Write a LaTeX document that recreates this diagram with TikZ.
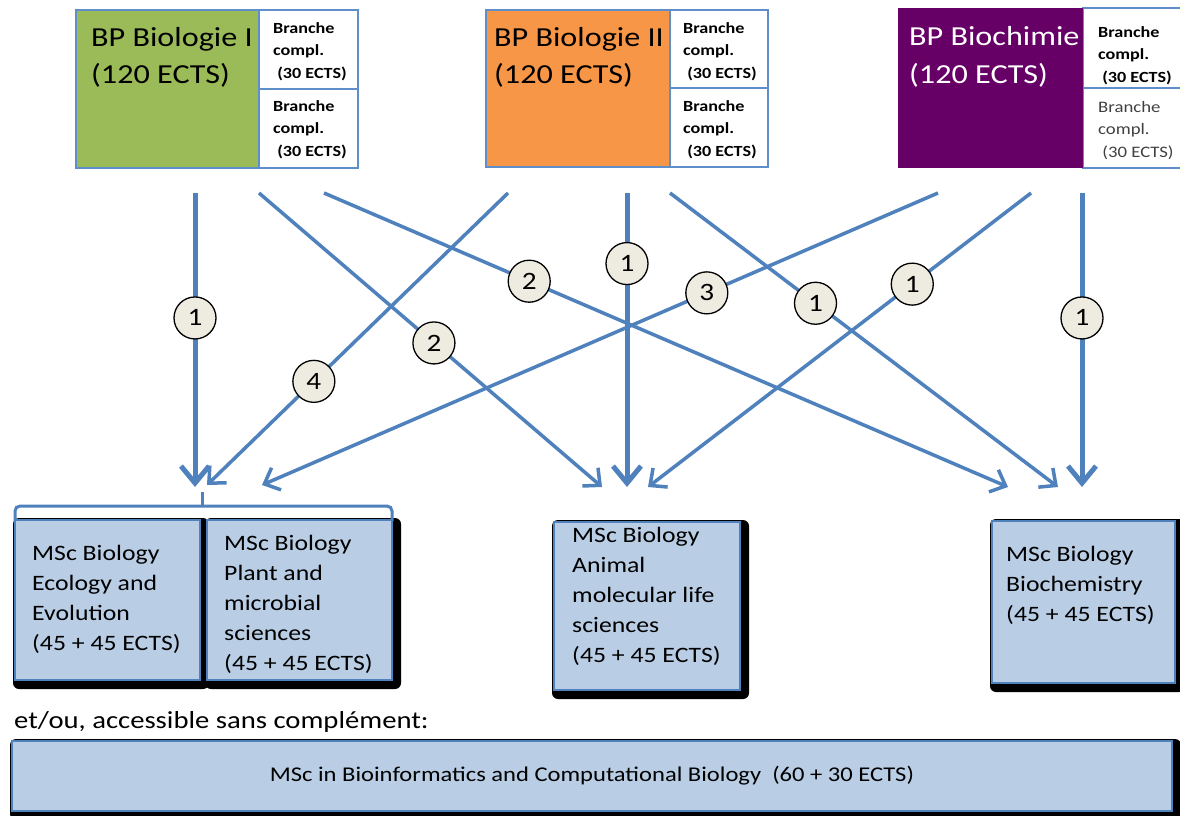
\documentclass[tikz,border=0pt]{standalone}
\usepackage{fontspec}
\setmainfont[FakeStretch=1.17]{Carlito}
\usetikzlibrary{arrows.meta}
\definecolor{arr}{HTML}{4F81BD}
\definecolor{bord}{HTML}{5E8FCB}
\definecolor{grn}{HTML}{9BBB59}
\definecolor{orng}{HTML}{F79646}
\definecolor{purp}{HTML}{660066}
\definecolor{mscfill}{HTML}{B9CDE5}
\definecolor{circfill}{HTML}{EEECE1}
\definecolor{greytext}{HTML}{404040}
\tikzset{
  box/.style={rectangle, inner sep=0pt, outer sep=0pt, anchor=north west},
  bptitle/.style={anchor=base west, align=left, inner sep=0pt, font=\fontsize{27.5}{37}\selectfont},
  brtext/.style={anchor=base west, align=left, inner sep=0pt, font=\fontsize{15.5}{22.5}\selectfont\bfseries},
  brtextreg/.style={anchor=base west, align=left, inner sep=0pt, text=greytext, font=\fontsize{16}{22.5}\selectfont},
  msctext/.style={anchor=base west, align=left, inner sep=0pt, font=\fontsize{22}{30}\selectfont},
  mscbox/.style={box, draw=arr, line width=2pt, fill=mscfill},
  shadowfill/.style={fill=black, rounded corners=6pt},
  num/.style={circle, draw=black, line width=1.3pt, fill=circfill, minimum size=42pt, inner sep=0pt, font=\fontsize{25}{25}\selectfont},
  conn/.style={draw=arr, line width=3.5pt, -{Straight Barb[length=13pt,width=24pt]}},
  vconn/.style={draw=arr, line width=5pt, -{Straight Barb[length=17pt,width=28pt]}},
}
\begin{document}
\begin{tikzpicture}[x=1pt,y=-1pt]
\useasboundingbox[fill=white] (0,0) rectangle (1180,816);

% ---- top programmes ----
\node[box, fill=grn, draw=bord, line width=2pt, minimum width=183pt, minimum height=158pt] (bp1) at (76,10) {};
\node[box, fill=white, draw=bord, line width=2pt, minimum width=99pt, minimum height=79pt] (bp1a) at (259,10) {};
\node[box, fill=white, draw=bord, line width=2pt, minimum width=99pt, minimum height=79pt] (bp1b) at (259,89) {};
\node[bptitle] (t1) at (91,84) {BP Biologie I\\(120 ECTS)};
\node[brtext] (t1a) at (273,78) {Branche\\compl.\\\ (30 ECTS)};
\node[brtext] (t1b) at (273,156) {Branche\\compl.\\\ (30 ECTS)};

\node[box, fill=orng, draw=bord, line width=2pt, minimum width=184pt, minimum height=157pt] (bp2) at (486,10) {};
\node[box, fill=white, draw=bord, line width=2pt, minimum width=98pt, minimum height=78pt] (bp2a) at (670,10) {};
\node[box, fill=white, draw=bord, line width=2pt, minimum width=98pt, minimum height=79pt] (bp2b) at (670,88) {};
\node[bptitle] (t2) at (494,84) {BP Biologie II\\(120 ECTS)};
\node[brtext] (t2a) at (683,78) {Branche\\compl.\\\ (30 ECTS)};
\node[brtext] (t2b) at (683,156) {Branche\\compl.\\\ (30 ECTS)};

\node[box, fill=white, draw=bord, line width=2pt, minimum width=110pt, minimum height=80pt] (bp3a) at (1083,8) {};
\node[box, fill=white, draw=bord, line width=2pt, minimum width=110pt, minimum height=80pt] (bp3b) at (1083,88) {};
\node[box, fill=purp, minimum width=185pt, minimum height=160pt] (bp3) at (898,8) {};
\node[bptitle, text=white] (t3) at (909,83) {BP Biochimie\\(120 ECTS)};
\node[brtext] (t3a) at (1098,82) {Branche\\compl.\\\ (30 ECTS)};
\node[brtextreg] (t3b) at (1098,157) {Branche\\compl.\\\ (30 ECTS)};

% ---- master programmes ----
\fill[shadowfill] (13,518) rectangle (209,689);
\fill[shadowfill] (205,518) rectangle (401,689);
\fill[shadowfill] (552,520) rectangle (749,699);
\fill[shadowfill] (990,519) rectangle (1185,692);
\fill[shadowfill] (10,739) rectangle (1181,820);

\node[mscbox, minimum width=185pt, minimum height=160pt] (mA) at (15,520) {};
\node[mscbox, minimum width=185pt, minimum height=160pt] (mB) at (207,520) {};
\node[mscbox, minimum width=186pt, minimum height=168pt] (mC) at (554,522) {};
\node[mscbox, minimum width=183pt, minimum height=162pt] (mD) at (992,521) {};
\node[mscbox, minimum width=1160pt, minimum height=70pt] (mE) at (12,741) {};

\node[msctext] (tA) at (32,650) {MSc Biology\\Ecology and\\Evolution\\(45 + 45 ECTS)};
\node[msctext] (tB) at (224,670) {MSc Biology\\Plant and\\microbial\\sciences\\(45 + 45 ECTS)};
\node[msctext] (tC) at (572,662) {MSc Biology\\Animal\\molecular life\\sciences\\(45 + 45 ECTS)};
\node[msctext] (tD) at (1006,621) {MSc Biology\\Biochemistry\\(45 + 45 ECTS)};
\node[font=\fontsize{21}{21}\selectfont, inner sep=0pt] (tE) at (mE.center) {MSc in Bioinformatics and Computational Biology\ \ (60 + 30 ECTS)};
\node[anchor=base west, inner sep=0pt, font=\fontsize{24.5}{25}\selectfont] (etou) at (14,728) {et/ou, accessible sans complément:};

% ---- bracket over first two MSc ----
\coordinate (brk) at (202,492);
\draw[draw=arr, line width=3pt, rounded corners=5pt] (15,521) -- (15,506) -- (392,506) -- (392,521);
\draw[draw=arr, line width=3pt] (202,506) -- (brk);

% ---- connectors ----
\coordinate (s1) at (195,193); \coordinate (e1) at (195,487);
\coordinate (s2) at (259,193); \coordinate (e2) at (602,487);
\coordinate (s3) at (324,193); \coordinate (e3) at (1008,487);
\coordinate (s4) at (508,193); \coordinate (e4) at (207,485);
\coordinate (s5) at (938,193); \coordinate (e5) at (262,485);
\coordinate (s6) at (627,193); \coordinate (e6) at (627,487);
\coordinate (s7) at (670,193); \coordinate (e7) at (1058,487);
\coordinate (s8) at (1031,193); \coordinate (e8) at (648,487);
\coordinate (s9) at (1082,193); \coordinate (e9) at (1082,487);

\draw[vconn] (s1) -- (e1);
\draw[conn] (s2) -- (e2);
\draw[conn] (s3) -- (e3);
\draw[conn] (s4) -- (e4);
\draw[conn] (s5) -- (e5);
\draw[vconn] (s6) -- (e6);
\draw[conn] (s7) -- (e7);
\draw[conn] (s8) -- (e8);
\draw[vconn] (s9) -- (e9);

\path (s1) -- (e1) node[num, pos=0.425] (n1) {1};
\path (s2) -- (e2) node[num, pos=0.51] (n2) {2};
\path (s3) -- (e3) node[num, pos=0.30] (n3) {2};
\path (s4) -- (e4) node[num, pos=0.645] (n4) {4};
\path (s5) -- (e5) node[num, pos=0.342] (n5) {3};
\path (s6) -- (e6) node[num, pos=0.24] (n6) {1};
\path (s7) -- (e7) node[num, pos=0.375] (n7) {1};
\path (s8) -- (e8) node[num, pos=0.31] (n8) {1};
\path (s9) -- (e9) node[num, pos=0.425] (n9) {1};
\end{tikzpicture}
\end{document}
